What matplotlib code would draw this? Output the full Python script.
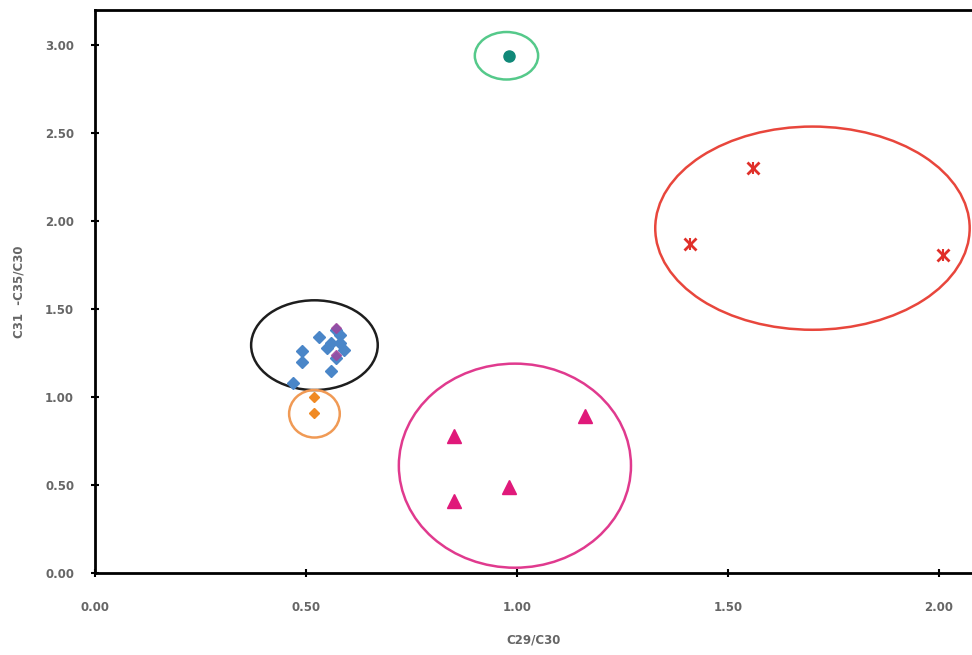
import matplotlib
matplotlib.use("Agg")
import matplotlib.pyplot as plt
from matplotlib.patches import Ellipse

# groups of samples (C29/C30, C31-C35/C30)
blue_x = [0.53, 0.57, 0.58, 0.56, 0.59, 0.57, 0.56, 0.49, 0.49, 0.47, 0.58, 0.55]
blue_y = [1.34, 1.38, 1.35, 1.31, 1.27, 1.22, 1.15, 1.26, 1.20, 1.08, 1.31, 1.28]
purple_x = [0.57, 0.57]
purple_y = [1.39, 1.24]
orange_x = [0.52, 0.52]
orange_y = [1.00, 0.91]
teal_x = [0.98]
teal_y = [2.94]
red_x = [1.56, 1.41, 2.01]
red_y = [2.30, 1.87, 1.81]
pink_x = [0.85, 0.85, 0.98, 1.16]
pink_y = [0.78, 0.41, 0.49, 0.89]

# cluster outlines: centre x, centre y, width, height, colour
clusters = [
    (0.52, 1.295, 0.30, 0.51, "#1e1e1e"),
    (0.52, 0.905, 0.12, 0.27, "#f09a55"),
    (0.975, 2.94, 0.15, 0.27, "#55c98a"),
    (1.70, 1.96, 0.745, 1.155, "#e8463c"),
    (0.995, 0.61, 0.55, 1.16, "#e03a8e"),
]

fig = plt.figure(figsize=(9.72, 6.55), dpi=100)
ax = fig.add_axes([0.0977, 0.1252, 0.9023, 0.8595])

for cx, cy, w, h, c in clusters:
    ax.add_patch(Ellipse((cx, cy), w, h, fill=False, edgecolor=c, lw=1.8))

ax.plot(blue_x, blue_y, "D", color="#4a86c8", ms=6, mec="#4a86c8", ls="none")
ax.plot(purple_x, purple_y, "D", color="#a0459e", ms=5, ls="none", alpha=0.8)
ax.plot(orange_x, orange_y, "D", color="#f08a24", ms=5.5, ls="none")
ax.plot(teal_x, teal_y, "o", color="#108878", ms=8, ls="none")
ax.plot(red_x, red_y, "x", color="#e0302a", ms=9, mew=2, ls="none")
ax.plot(red_x, red_y, "|", color="#e0302a", ms=9, mew=1.5, ls="none")
ax.plot(pink_x, pink_y, "^", color="#e0197a", ms=10, ls="none")

ax.set_xlim(0, 2.078)
ax.set_ylim(0, 3.20)
ax.set_xticks([0, 0.5, 1.0, 1.5, 2.0])
ax.set_yticks([0, 0.5, 1.0, 1.5, 2.0, 2.5, 3.0])
ax.xaxis.set_major_formatter(matplotlib.ticker.FormatStrFormatter("%.2f"))
ax.yaxis.set_major_formatter(matplotlib.ticker.FormatStrFormatter("%.2f"))
ax.tick_params(direction="inout", length=6, width=1.5, colors="#000000",
               labelcolor="#666666", labelsize=8.5)
ax.tick_params(axis="x", pad=17)
ax.tick_params(axis="y", pad=12)
for lab in ax.get_xticklabels() + ax.get_yticklabels():
    lab.set_fontweight("bold")

for side in ["left", "bottom", "top"]:
    ax.spines[side].set_linewidth(2)
ax.spines["right"].set_visible(False)

ax.set_xlabel("C29/C30", fontsize=8.5, fontweight="bold", color="#666666", labelpad=14)
ax.set_ylabel("C31  -C35/C30", fontsize=8.5, fontweight="bold", color="#666666", labelpad=14)

plt.savefig("out.png", dpi=100)
